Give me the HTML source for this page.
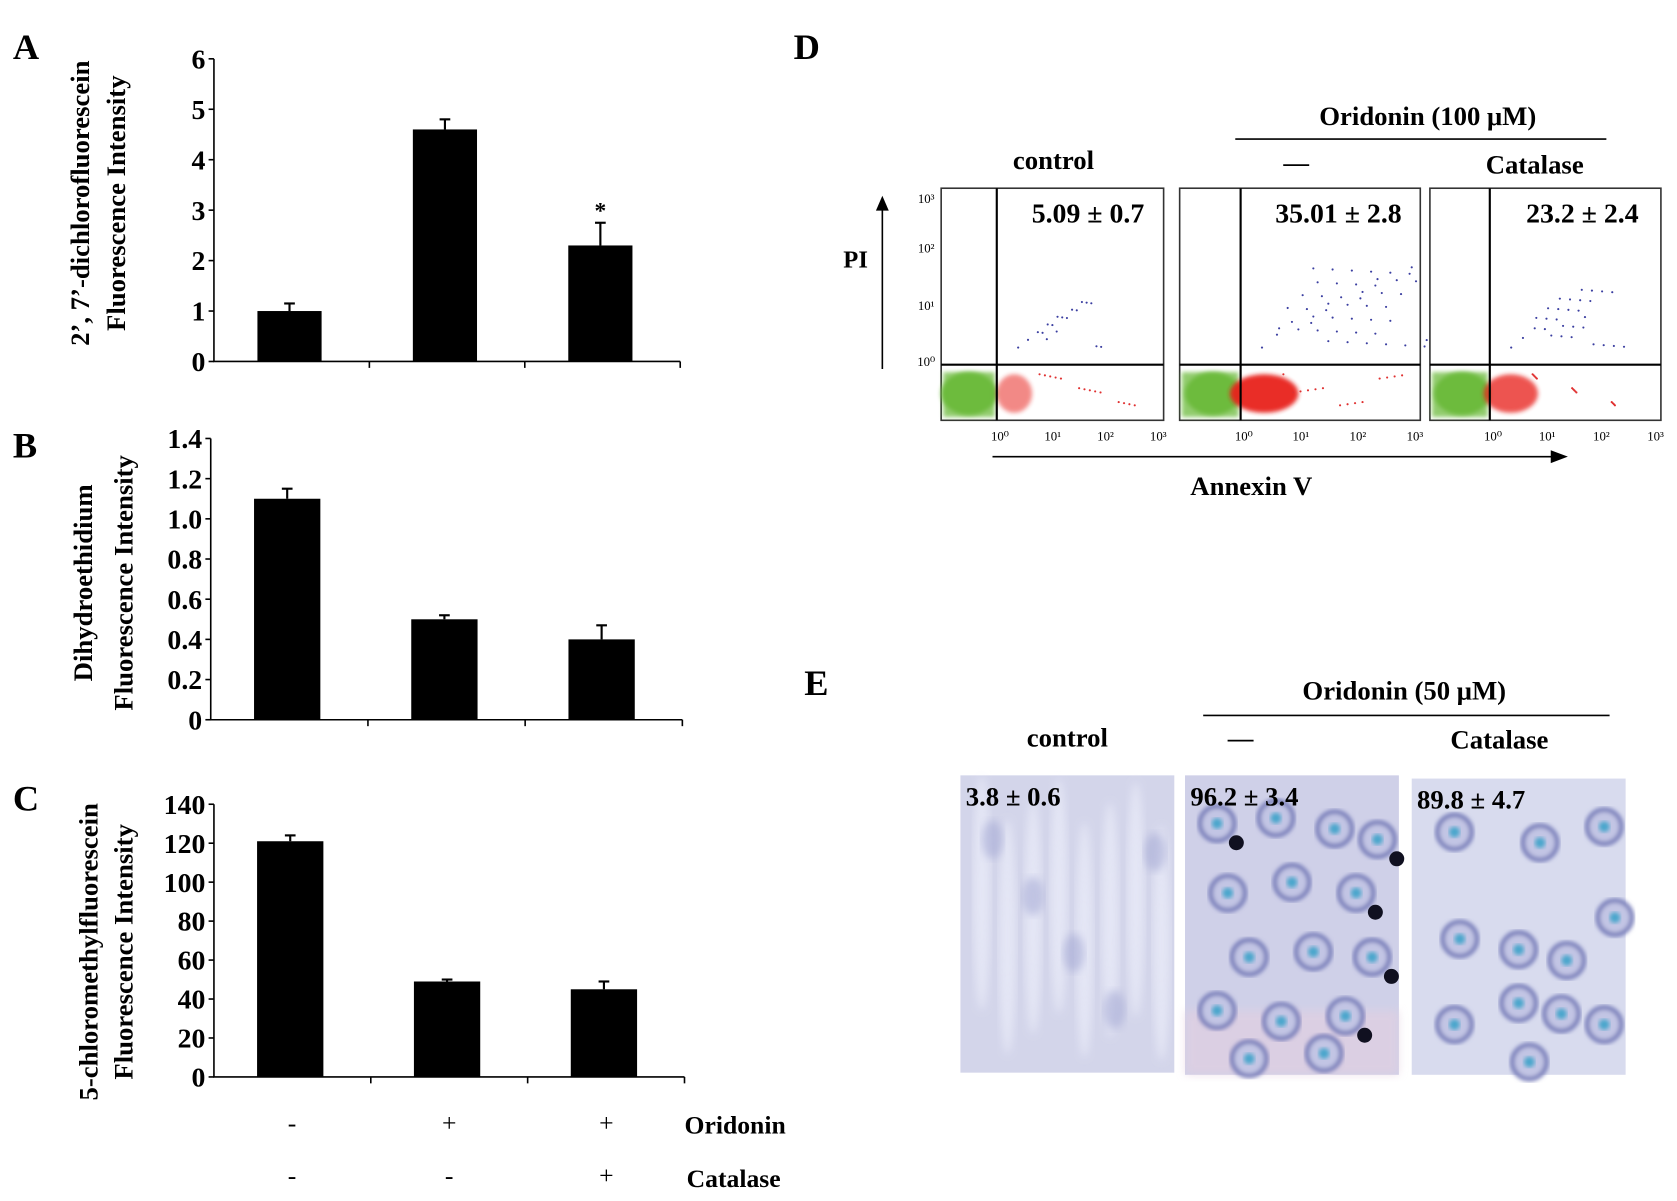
<!DOCTYPE html>
<html><head><meta charset="utf-8"><style>
html,body{margin:0;padding:0;background:#fff;}
svg{display:block;}
text{font-family:"Liberation Serif","DejaVu Serif",serif;font-weight:bold;fill:#000;}
.n{font-weight:normal;}
</style></head><body>
<svg id="fig" width="1677" height="1201" viewBox="0 0 1568 1123" xmlns="http://www.w3.org/2000/svg">
<defs>
<filter id="blur2"><feGaussianBlur stdDeviation="2"/></filter>
<filter id="blur4"><feGaussianBlur stdDeviation="4"/></filter>
</defs>
<g id="panelA"></g>
<g id="panelB"></g>
<g id="panelC"></g>
<text x="12" y="55" font-size="34">A</text>
<text x="12" y="428" font-size="34">B</text>
<text x="12" y="758" font-size="34">C</text>
<text x="742" y="55" font-size="34">D</text>
<text x="752" y="650" font-size="34">E</text>
<text transform="translate(83,190) rotate(-90)" text-anchor="middle" font-size="25">2’, 7’-dichlorofluorescein</text>
<text transform="translate(117,190) rotate(-90)" text-anchor="middle" font-size="25">Fluorescence Intensity</text>
<text transform="translate(86,545) rotate(-90)" text-anchor="middle" font-size="25">Dihydroethidium</text>
<text transform="translate(124,545) rotate(-90)" text-anchor="middle" font-size="25">Fluorescence Intensity</text>
<text transform="translate(91,890) rotate(-90)" text-anchor="middle" font-size="25">5-chloromethylfluorescein</text>
<text transform="translate(124,890) rotate(-90)" text-anchor="middle" font-size="25">Fluorescence Intensity</text>
<g font-size="24">
<text class="n" x="273" y="1058" text-anchor="middle">-</text>
<text class="n" x="420" y="1058" text-anchor="middle">+</text>
<text class="n" x="567" y="1058" text-anchor="middle">+</text>
<text x="640" y="1060">Oridonin</text>
<text class="n" x="273" y="1107" text-anchor="middle">-</text>
<text class="n" x="420" y="1107" text-anchor="middle">-</text>
<text class="n" x="567" y="1107" text-anchor="middle">+</text>
<text x="642" y="1110">Catalase</text>
</g>
<g id="panelD">
<text x="1335" y="117" text-anchor="middle" font-size="25">Oridonin  (100 μM)</text>
<line x1="1155" y1="130" x2="1502" y2="130" stroke="#000" stroke-width="1.5"/>
<text x="985" y="158" text-anchor="middle" font-size="25">control</text>
<text x="1212" y="160" text-anchor="middle" font-size="24">—</text>
<text x="1435" y="162" text-anchor="middle" font-size="25">Catalase</text>
<line x1="825" y1="345" x2="825" y2="195" stroke="#000" stroke-width="1.5"/>
<polygon points="819,197 831,197 825,183" fill="#000"/>
<text x="800" y="250" text-anchor="middle" font-size="23">PI</text>
<line x1="928" y1="427" x2="1452" y2="427" stroke="#000" stroke-width="1.5"/>
<polygon points="1450,421 1450,433 1466,427" fill="#000"/>
<text x="1170" y="463" text-anchor="middle" font-size="25">Annexin V</text>
<g id="flowBoxes"></g>
</g>
<g id="panelE">
<text x="1313" y="654" text-anchor="middle" font-size="25">Oridonin (50 μM)</text>
<line x1="1125" y1="669" x2="1505" y2="669" stroke="#000" stroke-width="1.5"/>
<text x="998" y="698" text-anchor="middle" font-size="25">control</text>
<text x="1160" y="698" text-anchor="middle" font-size="24">—</text>
<text x="1402" y="700" text-anchor="middle" font-size="25">Catalase</text>
<g id="micro"></g>
</g>
</svg>
<script>
const NS='http://www.w3.org/2000/svg';
function mk(tag,attrs,parent){const e=document.createElementNS(NS,tag);for(const k in attrs)e.setAttribute(k,attrs[k]);parent.appendChild(e);return e;}

const categories=['control','oridonin','oridonin-catalase'];
const valuesA=[1.0,4.6,2.3];
const errorsA=[0.15,0.2,0.45];
const ticksA=[0,1,2,3,4,5,6];
const valuesB=[1.1,0.5,0.4];
const errorsB=[0.05,0.02,0.07];
const ticksB=[0,0.2,0.4,0.6,0.8,1.0,1.2,1.4];
const tickLabelsB=['0','0.2','0.4','0.6','0.8','1.0','1.2','1.4'];
const valuesC=[121,49,45];
const errorsC=[3,1,4];
const ticksC=[0,20,40,60,80,100,120,140];

function barChart(g,cfg){
  const x0=cfg.x0,x1=cfg.x1,yb=cfg.yb,yt=cfg.yt,max=cfg.max;
  const y=v=>yb-(v/max)*(yb-yt);
  const bw=(x1-x0)/3;
  const xc=i=>x0+bw*(i+0.5)-2;
  const ax=mk('path',{d:`M${x0},${yt} L${x0},${yb} L${x1},${yb}`,fill:'none',stroke:'#000','stroke-width':1.5},g);
  
  
  cfg.ticks.forEach((t,i)=>{
    mk('line',{x1:x0-5,x2:x0,y1:y(t),y2:y(t),stroke:'#000','stroke-width':1.5},g);
    const tx=mk('text',{x:x0-8,y:y(t)+9,'text-anchor':'end','font-size':26},g);
    tx.textContent=cfg.labels?cfg.labels[i]:String(t);
    
    
  });
  for(let i=1;i<=3;i++)mk('line',{x1:x0+bw*i,x2:x0+bw*i,y1:yb,y2:yb+6,stroke:'#000','stroke-width':1.5},g);
  cfg.values.forEach((v,i)=>{
    const e=cfg.errors[i];
    const el=mk('line',{x1:xc(i),x2:xc(i),y1:y(v),y2:y(v+e),stroke:'#000','stroke-width':2},g);
    
    
    mk('line',{x1:xc(i)-5,x2:xc(i)+5,y1:y(v+e),y2:y(v+e),stroke:'#000','stroke-width':2},g);
    const r=mk('rect',{x:xc(i)-cfg.w/2,y:y(v),width:cfg.w,height:yb-y(v),fill:'#000'},g);
    
    
    if(cfg.star&&cfg.star[i]){const s=mk('text',{x:xc(i),y:y(v+e)-4,'text-anchor':'middle','font-size':22},g);s.textContent='*';}
  });
}
barChart(document.getElementById('panelA'),{x0:200,x1:636,yb:338,yt:55,max:6,ticks:ticksA,values:valuesA,errors:errorsA,w:60,star:[0,0,1]});
barChart(document.getElementById('panelB'),{x0:197,x1:638,yb:673,yt:410,max:1.4,ticks:ticksB,labels:tickLabelsB,values:valuesB,errors:errorsB,w:62});
barChart(document.getElementById('panelC'),{x0:200,x1:640,yb:1007,yt:752,max:140,ticks:ticksC,values:valuesC,errors:errorsC,w:62});

const fb=document.getElementById('flowBoxes');
const boxes=[{x:880,w:208,vx:932,lab:'5.09 ± 0.7',red:0.3,blue:0.2},{x:1103,w:225,vx:1160,lab:'35.01 ± 2.8',red:1,blue:1},{x:1337,w:216,vx:1393,lab:'23.2 ± 2.4',red:0.7,blue:0.5}];
const yT=176,yB=393,hY=341;
boxes.forEach((b,bi)=>{
  const g=mk('g',{},fb);
  
  
  mk('rect',{x:b.x,y:yT,width:b.w,height:yB-yT,fill:'#fff',stroke:'#333','stroke-width':1.5},g);
  mk('ellipse',{cx:b.vx-26,cy:368,rx:26,ry:20,fill:'#6dbb3c',filter:'url(#blur2)'},g);
  mk('rect',{x:b.x+2,y:348,width:b.vx-b.x-4,height:42,fill:'#6dbb3c',opacity:0.75,filter:'url(#blur2)'},g);
  mk('ellipse',{cx:b.vx+14+8*b.red,cy:368,rx:10+22*b.red,ry:18,fill:'#e8211f',opacity:0.35+0.6*b.red,filter:'url(#blur2)'},g);
  for(let k=0;k<14;k++){mk('circle',{cx:b.vx+40+((k*37)%(b.w-b.vx+b.x-50)),cy:350+((k*13)%38),r:1,fill:'#e03030'},g);}
  const n=Math.round(10+40*b.blue);
  for(let k=0;k<n;k++){mk('circle',{cx:b.vx+20+((k*29)%110)*b.blue+((k*17)%60),cy:325-((k*23)%80)*(0.5+b.blue*0.5),r:1,fill:'#3a3ea0'},g);}
  mk('line',{x1:b.vx,x2:b.vx,y1:yT,y2:yB,stroke:'#000','stroke-width':2},g);
  mk('line',{x1:b.x,x2:b.x+b.w,y1:hY,y2:hY,stroke:'#000','stroke-width':2},g);
  const t=mk('text',{x:b.x+b.w*0.66,y:208,'text-anchor':'middle','font-size':26},g);t.textContent=b.lab;
  ['10⁰','10¹','10²','10³'].forEach((s,i)=>{const tx=mk('text',{x:b.vx+3+i*(b.x+b.w-b.vx-8)/3,y:412,'text-anchor':'middle','font-size':12,class:'n'},g);tx.textContent=s;});
});
[['10³',190],['10²',236],['10¹',290],['10⁰',342]].forEach(a=>{const t=mk('text',{x:866,y:a[1],'text-anchor':'middle','font-size':12,class:'n'},fb);t.textContent=a[0];});

const mc=document.getElementById('micro');
const mp=[{x:898,y:725,w:200,h:278,bg:'#d3d5ea',lab:'3.8 ± 0.6',cells:[]},
{x:1108,y:725,w:200,h:280,bg:'#cfd0e8',lab:'96.2 ± 3.4',cells:[[30,45],[85,40],[140,50],[180,60],[40,110],[100,100],[160,110],[60,170],[120,165],[175,170],[30,220],[90,230],[150,225],[60,265],[130,260]]},
{x:1320,y:728,w:200,h:277,bg:'#d8dbee',lab:'89.8 ± 4.7',cells:[[40,50],[120,60],[180,45],[45,150],[100,160],[145,170],[190,130],[40,230],[100,210],[140,220],[180,230],[110,265]]}];
mp.forEach((p,pi)=>{
  const g=mk('g',{},mc);
  
  
  mk('rect',{x:p.x,y:p.y,width:p.w,height:p.h,fill:p.bg},g);
  if(pi===0){for(let k=0;k<8;k++)mk('ellipse',{cx:p.x+20+k*24,cy:p.y+140+((k*41)%60)-30,rx:8,ry:110,fill:'#eceefa',opacity:0.7,filter:'url(#blur4)'},g);
    for(let k=0;k<5;k++)mk('ellipse',{cx:p.x+30+k*38,cy:p.y+60+((k*53)%200),rx:10,ry:18,fill:'#9da2d0',opacity:0.5,filter:'url(#blur4)'},g);}
  if(pi===1){mk('rect',{x:p.x,y:p.y+220,width:p.w,height:60,fill:'#e4cfe0',opacity:0.6,filter:'url(#blur4)'},g);}
  p.cells.forEach((c,ci)=>{
    mk('circle',{cx:p.x+c[0],cy:p.y+c[1],r:16,fill:'#c2c5e4',stroke:'#7076b6','stroke-width':4,filter:'url(#blur2)'},g);
    mk('circle',{cx:p.x+c[0],cy:p.y+c[1],r:5,fill:'#4aa6cc',filter:'url(#blur2)'},g);
    if(pi===1&&ci%3===0)mk('circle',{cx:p.x+c[0]+18,cy:p.y+c[1]+18,r:7,fill:'#101020'},g);
  });
  const t=mk('text',{x:p.x+5,y:p.y+28,'font-size':25},g);t.textContent=p.lab;
});
</script>
</body></html>
